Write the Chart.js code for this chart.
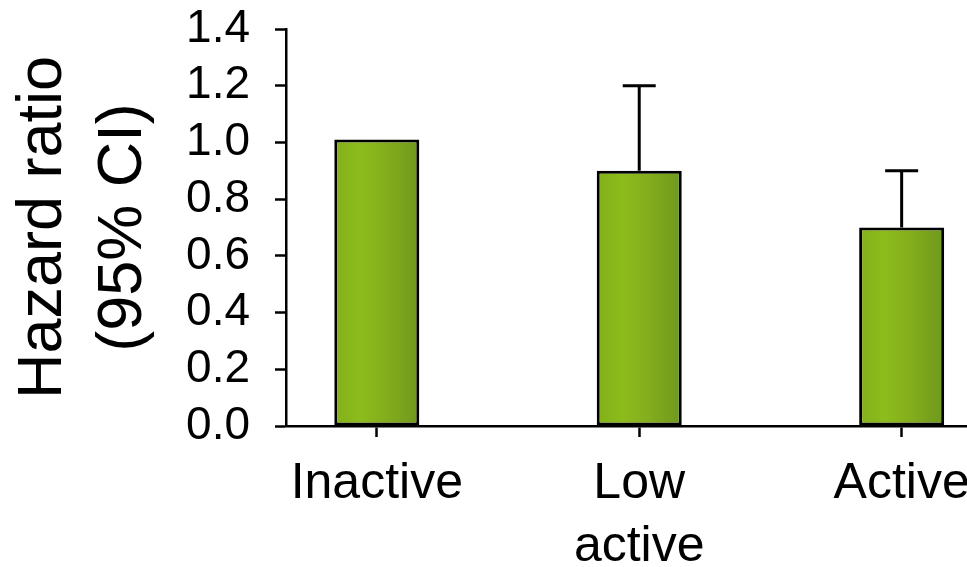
<!DOCTYPE html>
<html>
<head>
<meta charset="utf-8">
<script src="https://cdn.jsdelivr.net/npm/chart.js@4/dist/chart.umd.min.js"></script>
<style>
  html, body { margin: 0; padding: 0; background: #fff; overflow: hidden; }
  #wrap { width: 967px; height: 567px; position: relative; }
</style>
</head>
<body>
<div id="wrap"><canvas id="c" width="967" height="567"></canvas></div>
<script>
// ---- data ----
const categories = ['Inactive', ['Low', 'active'], 'Active'];
const hazardRatio = [1.01, 0.90, 0.70];
const upperCI = [null, 1.20, 0.90];
const yTicks = [0.0, 0.2, 0.4, 0.6, 0.8, 1.0, 1.2, 1.4];

const FONT = '"Liberation Sans", Arial, Helvetica, sans-serif';
const BAR_FRACTION = 0.324;

function barGradient(ctx) {
  const chart = ctx.chart;
  const xs = chart.scales && chart.scales.x;
  if (!xs || ctx.dataIndex === undefined) return '#86b41a';
  const c = xs.getPixelForValue(ctx.dataIndex);
  const half = Math.abs(xs.getPixelForValue(1) - xs.getPixelForValue(0)) * BAR_FRACTION / 2;
  if (!isFinite(c) || !isFinite(half) || half <= 0) return '#86b41a';
  const g = chart.ctx.createLinearGradient(c - half, 0, c + half, 0);
  g.addColorStop(0, '#82b01a');
  g.addColorStop(0.3, '#8cbc1c');
  g.addColorStop(0.6, '#84ae1c');
  g.addColorStop(1, '#6e981d');
  return g;
}

const errorBars = {
  id: 'errorBars',
  afterDatasetsDraw(chart) {
    const { ctx, scales: { x, y } } = chart;
    ctx.save();
    ctx.strokeStyle = '#000';
    ctx.lineWidth = 3;
    upperCI.forEach((u, i) => {
      if (u === null || u === undefined) return;
      const px = x.getPixelForValue(i);
      const top = y.getPixelForValue(u);
      const base = y.getPixelForValue(hazardRatio[i]);
      const capHalf = 16.5;
      ctx.beginPath();
      ctx.moveTo(px, base);
      ctx.lineTo(px, top);
      ctx.moveTo(px - capHalf, top);
      ctx.lineTo(px + capHalf, top);
      ctx.stroke();
    });
    ctx.restore();
  }
};

new Chart(document.getElementById('c'), {
  type: 'bar',
  data: {
    datasets: [{
      data: hazardRatio.map((v, i) => ({ x: i, y: v })),
      backgroundColor: barGradient,
      borderColor: '#000',
      borderWidth: 3,
      borderSkipped: false,
      barPercentage: BAR_FRACTION,
      categoryPercentage: 1
    }]
  },
  options: {
    responsive: false,
    animation: false,
    events: [],
    layout: { padding: { top: 29, right: 0, left: 0, bottom: 0 } },
    plugins: { legend: { display: false }, tooltip: { enabled: false } },
    scales: {
      x: {
        type: 'linear',
        min: -0.346,
        max: 2.249,
        offset: false,
        grid: { offset: false, drawOnChartArea: false, tickLength: 11, tickWidth: 2.5, tickColor: '#000' },
        border: { display: true, color: '#000', width: 2.5 },
        afterBuildTicks: (s) => { s.ticks = categories.map((c, i) => ({ value: i })); },
        ticks: {
          autoSkip: false,
          maxRotation: 0,
          minRotation: 0,
          padding: 16,
          color: '#000',
          font: { family: FONT, size: 50, lineHeight: 1.26 },
          callback: (v) => categories[v]
        },
        afterFit: (s) => { s.height = 141; s.paddingLeft = 0; s.paddingRight = 0; }
      },
      y: {
        min: 0,
        max: 1.4,
        grid: { offset: false, drawOnChartArea: false, tickLength: 11, tickWidth: 2.5, tickColor: '#000' },
        border: { display: true, color: '#000', width: 2.5 },
        afterBuildTicks: (s) => { s.ticks = yTicks.map(v => ({ value: v })); },
        ticks: {
          autoSkip: false,
          padding: 25,
          color: '#000',
          font: { family: FONT, size: 46 },
          callback: (v) => Number(v).toFixed(1)
        },
        title: {
          display: true,
          text: ['Hazard ratio', '(95% CI)'],
          color: '#000',
          font: { family: FONT, size: 63, lineHeight: 1.27 },
          padding: { top: 4, bottom: 0 }
        },
        afterFit: (s) => { s.width = 286; s.paddingTop = 0; s.paddingBottom = 0; }
      }
    }
  },
  plugins: [errorBars]
});
</script>
</body>
</html>
